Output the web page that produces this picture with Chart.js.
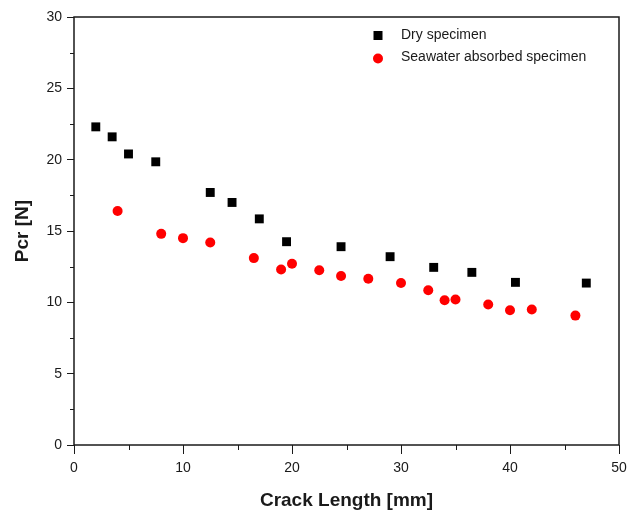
<!DOCTYPE html>
<html>
<head>
<meta charset="utf-8">
<script src="https://cdn.jsdelivr.net/npm/chart.js@4.4.0/dist/chart.umd.min.js"></script>
<style>
html, body { margin: 0; padding: 0; background: #fff; }
canvas { display: block; }
</style>
</head>
<body>
<canvas id="chart" width="638" height="513"></canvas>
<script>
// crack length [mm] and load Pcr [N]
var dryLength = [2, 3.5, 5, 7.5, 12.5, 14.5, 17, 19.5, 24.5, 29, 33, 36.5, 40.5, 47];
var dryLoad = [22.3, 21.6, 20.4, 19.85, 17.7, 17.0, 15.85, 14.25, 13.9, 13.2, 12.45, 12.1, 11.4, 11.35];

var wetLength = [4, 8, 10, 12.5, 16.5, 19, 20, 22.5, 24.5, 27, 30, 32.5, 34, 35, 38, 40, 42, 46];
var wetLoad = [16.4, 14.8, 14.5, 14.2, 13.1, 12.3, 12.7, 12.25, 11.85, 11.65, 11.35, 10.85, 10.15, 10.2, 9.85, 9.45, 9.5, 9.07];

var seriesNames = ['Dry specimen', 'Seawater absorbed specimen'];
var xTicks = [0, 10, 20, 30, 40, 50];
var yTicks = [0, 5, 10, 15, 20, 25, 30];

function toPoints(xs, ys) {
	return xs.map(function (x, i) { return { x: x, y: ys[i] }; });
}

var inkColor = '#1a1a1a';
var fontFamily = '"Liberation Sans", Arial, sans-serif';

// frame, minor ticks and the in-plot legend
var decorations = {
	id: 'decorations',
	afterDraw: function (chart) {
		var ctx = chart.ctx;
		var a = chart.chartArea;
		var xs = chart.scales.x, ys = chart.scales.y;
		ctx.save();
		ctx.strokeStyle = inkColor;
		ctx.lineWidth = 1.5;
		ctx.strokeRect(a.left, a.top, a.right - a.left, a.bottom - a.top);

		ctx.lineWidth = 1;
		ctx.beginPath();
		for (var v = 5; v < 50; v += 10) {
			var px = Math.round(xs.getPixelForValue(v)) + 0.5;
			ctx.moveTo(px, a.bottom);
			ctx.lineTo(px, a.bottom + 5);
		}
		for (var w = 2.5; w < 30; w += 5) {
			var py = Math.round(ys.getPixelForValue(w)) + 0.5;
			ctx.moveTo(a.left, py);
			ctx.lineTo(a.left - 4, py);
		}
		ctx.stroke();

		// legend
		ctx.font = '14px ' + fontFamily;
		ctx.textBaseline = 'middle';
		var lx = 378, ly = 35.5, gap = 22;
		chart.data.datasets.forEach(function (ds, i) {
			var cy = ly + i * gap;
			ctx.fillStyle = ds.backgroundColor;
			if (ds.pointStyle === 'rect') {
				ctx.fillRect(lx - 4.5, cy - 4.5, 9, 9);
			} else {
				ctx.beginPath();
				ctx.arc(lx, cy + 1, 5, 0, Math.PI * 2);
				ctx.fill();
			}
			ctx.fillStyle = inkColor;
			ctx.fillText(ds.label, 401, cy);
		});
		ctx.restore();
	}
};

new Chart(document.getElementById('chart'), {
	type: 'scatter',
	data: {
		datasets: [{
			label: seriesNames[0],
			data: toPoints(dryLength, dryLoad),
			pointStyle: 'rect',
			pointRadius: 6.3,
			pointHoverRadius: 6.3,
			backgroundColor: '#000000',
			borderColor: '#000000',
			borderWidth: 0
		}, {
			label: seriesNames[1],
			data: toPoints(wetLength, wetLoad),
			pointStyle: 'circle',
			pointRadius: 5,
			pointHoverRadius: 5,
			backgroundColor: '#ff0000',
			borderColor: '#ff0000',
			borderWidth: 0
		}]
	},
	options: {
		responsive: false,
		animation: false,
		layout: { padding: { top: 17, right: 19, left: 0, bottom: 0 } },
		plugins: {
			legend: { display: false },
			tooltip: { enabled: false }
		},
		scales: {
			x: {
				type: 'linear',
				min: 0,
				max: 50,
				afterFit: function (scale) { scale.height = 68; },
				afterBuildTicks: function (scale) {
					scale.ticks = xTicks.map(function (v) { return { value: v }; });
				},
				ticks: {
					color: inkColor,
					padding: 6,
					maxRotation: 0,
					font: { family: fontFamily, size: 14 }
				},
				grid: {
					drawOnChartArea: false,
					drawTicks: true,
					tickLength: 9,
					tickColor: inkColor,
					tickWidth: 1
				},
				border: { display: false },
				title: {
					display: true,
					text: 'Crack Length [mm]',
					color: inkColor,
					padding: { top: 0, bottom: 1 },
					font: { family: fontFamily, size: 19, weight: 'bold' }
				}
			},
			y: {
				type: 'linear',
				min: 0,
				max: 30,
				afterFit: function (scale) { scale.width = 74; },
				afterBuildTicks: function (scale) {
					scale.ticks = yTicks.map(function (v) { return { value: v }; });
				},
				ticks: {
					color: inkColor,
					padding: 5,
					font: { family: fontFamily, size: 14 }
				},
				grid: {
					drawOnChartArea: false,
					drawTicks: true,
					tickLength: 7,
					tickColor: inkColor,
					tickWidth: 1
				},
				border: { display: false },
				title: {
					display: true,
					text: 'Pcr [N]',
					color: inkColor,
					padding: { top: 11, bottom: 0 },
					font: { family: fontFamily, size: 19, weight: 'bold' }
				}
			}
		}
	},
	plugins: [decorations]
});
</script>
</body>
</html>
